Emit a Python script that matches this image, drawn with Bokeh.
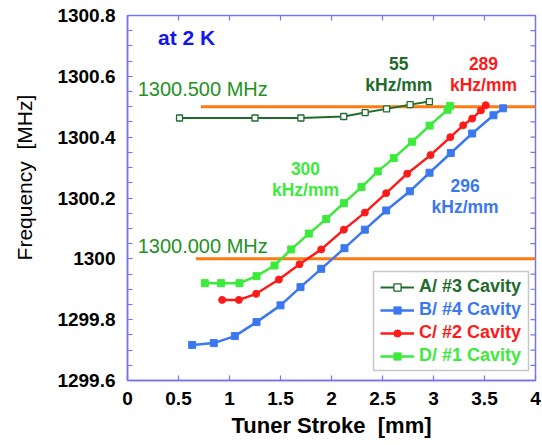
import numpy as np
from bokeh.plotting import figure
from bokeh.models import (Range1d, FixedTicker, LinearAxis, Legend, LegendItem,
                          BoxAnnotation, ColumnDataSource)
from bokeh.core.properties import value
from bokeh.embed import file_html
from bokeh.resources import INLINE

# ---------------- data ----------------
A_x = [0.51, 1.25, 1.70, 2.12, 2.33, 2.54, 2.77, 2.96]
A_y = [1300.463, 1300.463, 1300.463, 1300.468, 1300.481, 1300.493, 1300.507, 1300.517]

B_x = [0.634, 0.846, 1.052, 1.265, 1.50, 1.696, 1.899, 2.127, 2.327, 2.536,
       2.768, 2.961, 3.170, 3.379, 3.588, 3.683]
B_y = [1299.717, 1299.723, 1299.746, 1299.792, 1299.847, 1299.907, 1299.967,
       1300.035, 1300.096, 1300.159, 1300.222, 1300.283, 1300.348, 1300.412,
       1300.472, 1300.495]

C_x = [0.928, 1.092, 1.261, 1.484, 1.686, 1.899, 2.121, 2.327, 2.536, 2.742,
       2.971, 3.165, 3.291, 3.379, 3.465, 3.512]
C_y = [1299.865, 1299.865, 1299.885, 1299.932, 1299.982, 1300.031, 1300.096,
       1300.152, 1300.216, 1300.280, 1300.341, 1300.400, 1300.439, 1300.461,
       1300.488, 1300.505]

D_x = [0.758, 0.918, 1.098, 1.265, 1.441, 1.605, 1.778, 1.948, 2.121, 2.294,
       2.454, 2.61, 2.79, 2.962, 3.138, 3.163]
D_y = [1299.920, 1299.920, 1299.920, 1299.943, 1299.978, 1300.031, 1300.083,
       1300.131, 1300.183, 1300.236, 1300.2875, 1300.331, 1300.385, 1300.438,
       1300.490, 1300.503]

series_labels = ["A/ #3 Cavity", "B/ #4 Cavity", "C/ #2 Cavity", "D/ #1 Cavity"]

ref_levels = [1300.5, 1300.0]
ref_start = [0.72, 0.67]
ref_end = [4.0, 4.0]
ref_texts = ["1300.500 MHz", "1300.000 MHz"]
ref_text_x = [0.10, 0.10]
ref_text_y = [1300.557, 1300.042]

slope_num = ["55", "289", "300", "296"]
slope_unit = ["kHz/mm"] * 4
slope_x = [2.66, 3.49, 1.745, 3.31]
slope_y_num = [1300.643, 1300.643, 1300.297, 1300.241]
slope_y_unit = [1300.570, 1300.570, 1300.225, 1300.172]

x_ticks = [0, 0.5, 1, 1.5, 2, 2.5, 3, 3.5, 4]
x_tick_labels = ["0", "0.5", "1", "1.5", "2", "2.5", "3", "3.5", "4"]
y_ticks = [1299.6, 1299.8, 1300.0, 1300.2, 1300.4, 1300.6, 1300.8]
y_tick_labels = ["1299.6", "1299.8", "1300", "1300.2", "1300.4", "1300.6", "1300.8"]

# ---------------- style ----------------
FONT = "Liberation Sans"
COL_A = "#1e6b2c"
COL_B = "#3b78f0"
COL_C = "#ff1a1a"
COL_D = "#3cea3c"
ORANGE = "#ff7a10"
FRAME = "#7474f0"
X0, X1, Y0, Y1 = 0, 4, 1299.6, 1300.8
FW, FH = 408, 365
TICK = 5

p = figure(frame_width=FW, frame_height=FH, output_backend="svg",
           toolbar_location=None, x_range=Range1d(X0, X1),
           y_range=Range1d(Y0, Y1), x_axis_type=None, y_axis_type=None)
p.min_border_left = 127
p.min_border_right = 7
p.min_border_top = 15
p.min_border_bottom = 65
p.xgrid.visible = False
p.ygrid.visible = False
p.outline_line_color = FRAME
p.outline_line_width = 1.5
p.background_fill_color = "white"
p.border_fill_color = "white"

y_minor = [float(v) for v in np.round(np.arange(Y0, Y1 + 0.0001, 0.05), 3)]
xt = FixedTicker(ticks=x_ticks, minor_ticks=[])
yt = FixedTicker(ticks=y_ticks, minor_ticks=y_minor)


def style_axis(ax):
    ax.axis_line_color = FRAME
    ax.axis_line_width = 1.5
    ax.major_tick_line_color = FRAME
    ax.minor_tick_line_color = FRAME
    ax.major_tick_line_width = 1.2
    ax.minor_tick_line_width = 1.2
    ax.major_tick_in = TICK
    ax.major_tick_out = 0
    ax.minor_tick_in = TICK
    ax.minor_tick_out = 0
    ax.major_label_text_font = FONT
    ax.major_label_text_font_style = "bold"
    ax.major_label_text_font_size = "19px"
    ax.major_label_text_color = "black"
    ax.axis_label_text_font = FONT
    ax.axis_label_text_color = "black"


bx = LinearAxis(ticker=xt, axis_label="Tuner Stroke \u00a0[mm]",
                major_label_overrides={t: l for t, l in zip(x_ticks, x_tick_labels)})
style_axis(bx)
bx.major_label_standoff = 11
bx.axis_label_standoff = 5
bx.axis_label_text_font_style = "bold"
bx.axis_label_text_font_size = "22px"
p.add_layout(bx, "below")

ly = LinearAxis(ticker=yt,
                axis_label="\u00a0" * 7 + "Frequency \u00a0[MHz]",
                major_label_overrides={t: l for t, l in zip(y_ticks, y_tick_labels)})
style_axis(ly)
ly.major_label_standoff = 12
ly.axis_label_standoff = 18
ly.axis_label_text_font_style = "normal"
ly.axis_label_text_font_size = "21px"
p.add_layout(ly, "left")

# inward ticks on the top and right edges of the frame
dy = TICK * (Y1 - Y0) / FH
dx = TICK * (X1 - X0) / FW
p.segment(x0=x_ticks, y0=[Y1] * len(x_ticks), x1=x_ticks, y1=[Y1 - dy] * len(x_ticks),
          line_color=FRAME, line_width=1.2)
p.segment(x0=[X1] * len(y_minor), y0=y_minor, x1=[X1 - dx] * len(y_minor), y1=y_minor,
          line_color=FRAME, line_width=1.2)

# reference lines
p.segment(x0=ref_start, y0=ref_levels, x1=ref_end, y1=ref_levels,
          line_color=ORANGE, line_width=3)

# series
la = p.line(A_x, A_y, line_color=COL_A, line_width=2)
sa = p.scatter(A_x, A_y, marker="square", size=6, line_color=COL_A,
               fill_color="white", line_width=1.3)
lb = p.line(B_x, B_y, line_color=COL_B, line_width=2.5)
sb = p.scatter(B_x, B_y, marker="square", size=7, line_color=COL_B, fill_color=COL_B)
lc = p.line(C_x, C_y, line_color=COL_C, line_width=2.5)
sc = p.scatter(C_x, C_y, marker="circle", size=7, line_color=COL_C, fill_color=COL_C)
ld = p.line(D_x, D_y, line_color=COL_D, line_width=2.5)
sd = p.scatter(D_x, D_y, marker="square", size=7, line_color=COL_D, fill_color=COL_D)

# annotations
p.text(x=[0.30], y=[1300.727], text=["at 2 K"], text_font=value(FONT),
       text_font_style="bold", text_font_size="21px", text_color="#1515ee",
       text_baseline="middle", text_align="left")
p.text(x=ref_text_x, y=ref_text_y, text=ref_texts, text_font=value(FONT),
       text_font_size="20px", text_color="#23921f", text_baseline="middle",
       text_align="left")
slope_cols = [COL_A, COL_C, COL_D, COL_B]
src = ColumnDataSource(dict(x=slope_x, yn=slope_y_num, yu=slope_y_unit,
                            tn=slope_num, tu=slope_unit, c=slope_cols))
p.text(x="x", y="yn", text="tn", source=src, text_font=value(FONT),
       text_font_style="bold", text_font_size="17.5px", text_color="c",
       text_baseline="middle", text_align="center")
p.text(x="x", y="yu", text="tu", source=src, text_font=value(FONT),
       text_font_style="bold", text_font_size="17.5px", text_color="c",
       text_baseline="middle", text_align="center")

# legend box
p.add_layout(BoxAnnotation(left=(373 - 127) / 102.0, right=(528 - 127) / 102.0,
                           top=Y0 + (380 - 271) / 304.0,
                           bottom=Y0 + (380 - 370) / 304.0,
                           fill_alpha=0, line_color="#444444", line_width=1.5,
                           level="annotation"))

items = [(series_labels[0], [la, sa], COL_A), (series_labels[1], [lb, sb], COL_B),
         (series_labels[2], [lc, sc], COL_C), (series_labels[3], [ld, sd], COL_D)]
row_bottoms = [83, 60, 37, 14]
for (lab, rens, col), yb in zip(items, row_bottoms):
    lg = Legend(items=[LegendItem(label=lab, renderers=rens)], location=(253, yb))
    lg.border_line_color = None
    lg.background_fill_alpha = 0
    lg.padding = 0
    lg.margin = 0
    lg.glyph_width = 34
    lg.glyph_height = 18
    lg.label_height = 18
    lg.label_standoff = 5
    lg.label_text_font = FONT
    lg.label_text_font_style = "bold"
    lg.label_text_font_size = "18px"
    lg.label_text_color = col
    lg.label_text_baseline = "middle"
    p.add_layout(lg, "center")

open("out.html", "w").write(file_html(p, INLINE))
